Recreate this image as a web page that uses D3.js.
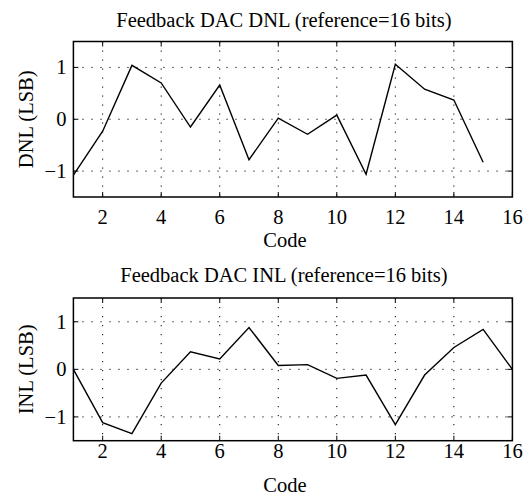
<!DOCTYPE html>
<html>
<head>
<meta charset="utf-8">
<script src="https://cdn.jsdelivr.net/npm/d3@7"></script>
<style>
  html, body { margin: 0; padding: 0; background: #fff; }
  svg { display: block; }
  text { font-family: "Liberation Serif", "Times New Roman", serif; fill: #000; }
</style>
</head>
<body>
<svg id="chart" width="527" height="498"></svg>
<script>
const codesDNL = [1,2,3,4,5,6,7,8,9,10,11,12,13,14,15];
const dnlValues = [-1.08,-0.23,1.04,0.70,-0.15,0.66,-0.78,0.02,-0.29,0.08,-1.06,1.06,0.58,0.37,-0.83];
const codesINL = [1,2,3,4,5,6,7,8,9,10,11,12,13,14,15,16];
const inlValues = [0.00,-1.12,-1.35,-0.29,0.37,0.22,0.88,0.08,0.10,-0.19,-0.12,-1.16,-0.12,0.46,0.84,0.00];
const xTicks = [2,4,6,8,10,12,14,16];
const yTicks = [-1,0,1];
const titles = ["Feedback DAC DNL (reference=16 bits)", "Feedback DAC INL (reference=16 bits)"];
const yLabels = ["DNL (LSB)", "INL (LSB)"];
const xLabel = "Code";

const svg = d3.select("#chart");
const fs = 20.5;

const panels = [
  {codes: codesDNL, vals: dnlValues, top: 41.5, bottom: 197, title: titles[0], ylab: yLabels[0], titleY: 27, tickY: 224, labY: 247},
  {codes: codesINL, vals: inlValues, top: 298, bottom: 440.7, title: titles[1], ylab: yLabels[1], titleY: 282, tickY: 458, labY: 492}
];

const left = 73.4, right = 512.4;

panels.forEach(p => {
  const x = d3.scaleLinear().domain([1,16]).range([left, right]);
  const y = d3.scaleLinear().domain([-1.5,1.5]).range([p.bottom, p.top]);
  const g = svg.append("g");

  // grid
  g.selectAll(".gx").data(xTicks.filter(t => t < 16)).enter().append("line")
    .attr("x1", d => x(d)).attr("x2", d => x(d))
    .attr("y1", p.top).attr("y2", p.bottom)
    .attr("stroke", "#000").attr("stroke-width", 1)
    .attr("stroke-dasharray", "1.2,7.8");
  g.selectAll(".gy").data(yTicks).enter().append("line")
    .attr("x1", left).attr("x2", right)
    .attr("y1", d => y(d)).attr("y2", d => y(d))
    .attr("stroke", "#000").attr("stroke-width", 1)
    .attr("stroke-dasharray", "1.2,7.8");

  // ticks inward all sides
  const tl = 5;
  xTicks.forEach(t => {
    g.append("line").attr("x1", x(t)).attr("x2", x(t)).attr("y1", p.bottom).attr("y2", p.bottom - tl).attr("stroke", "#000").attr("stroke-width", 1);
    g.append("line").attr("x1", x(t)).attr("x2", x(t)).attr("y1", p.top).attr("y2", p.top + tl).attr("stroke", "#000").attr("stroke-width", 1);
  });
  yTicks.forEach(t => {
    g.append("line").attr("x1", left).attr("x2", left + tl).attr("y1", y(t)).attr("y2", y(t)).attr("stroke", "#000").attr("stroke-width", 1);
    g.append("line").attr("x1", right).attr("x2", right - tl).attr("y1", y(t)).attr("y2", y(t)).attr("stroke", "#000").attr("stroke-width", 1);
  });

  // data line
  const line = d3.line().x((d, i) => x(p.codes[i])).y(d => y(d));
  g.append("path").datum(p.vals).attr("d", line)
    .attr("fill", "none").attr("stroke", "#000").attr("stroke-width", 1.4)
    .attr("stroke-linejoin", "miter");

  // frame
  g.append("rect").attr("x", left).attr("y", p.top)
    .attr("width", right - left).attr("height", p.bottom - p.top)
    .attr("fill", "none").attr("stroke", "#000").attr("stroke-width", 1.5);

  // tick labels
  g.selectAll(".xl").data(xTicks).enter().append("text")
    .attr("x", d => x(d)).attr("y", p.tickY)
    .attr("text-anchor", "middle").attr("font-size", fs)
    .text(d => d);
  g.selectAll(".yl").data(yTicks).enter().append("text")
    .attr("x", left - 7).attr("y", d => y(d) + 7)
    .attr("text-anchor", "end").attr("font-size", fs)
    .text(d => d < 0 ? "\u2212" + Math.abs(d) : d);

  // title
  g.append("text").attr("x", (left + right) / 2 - 9).attr("y", p.titleY)
    .attr("text-anchor", "middle").attr("font-size", fs).text(p.title);
  // x label
  g.append("text").attr("x", (left + right) / 2 - 8).attr("y", p.labY)
    .attr("text-anchor", "middle").attr("font-size", fs).text(xLabel);
  // y label
  const cy = (p.top + p.bottom) / 2;
  g.append("text").attr("transform", `translate(33,${cy}) rotate(-90)`)
    .attr("text-anchor", "middle").attr("font-size", fs).text(p.ylab);
});
</script>
</body>
</html>
